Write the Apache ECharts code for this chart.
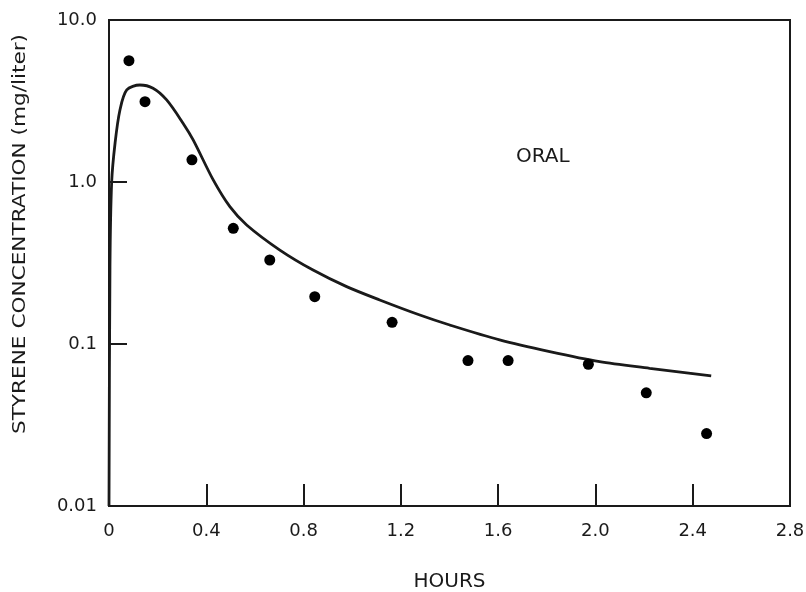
<!DOCTYPE html>
<html>
<head>
<meta charset="utf-8">
<script src="https://cdn.jsdelivr.net/npm/echarts@6/dist/echarts.min.js"></script>
<style>
  html, body { margin: 0; padding: 0; background: #fff; }
  #chart { width: 806px; height: 592px; }
</style>
</head>
<body>
<div id="chart"></div>
<script>
// observed concentrations (dots)
const obsHours = [0.082, 0.148, 0.341, 0.511, 0.661, 0.846, 1.164, 1.476, 1.641, 1.971, 2.209, 2.457]
const obsConc = [5.61, 3.13, 1.37, 0.518, 0.33, 0.196, 0.136, 0.079, 0.079, 0.075, 0.05, 0.028]

// model curve
const fitHours = [0, 0.004, 0.011, 0.025, 0.045, 0.073, 0.127, 0.181, 0.237, 0.305, 0.346, 0.4285,
  0.497, 0.566, 0.7025, 0.839, 0.977, 1.113, 1.278, 1.401, 1.606, 1.812, 2.017, 2.223, 2.476]
const fitConc = [0.01, 0.3, 1.0, 1.74, 2.78, 3.7, 3.97, 3.79, 3.21, 2.3, 1.82, 1.03,
  0.704, 0.543, 0.38, 0.286, 0.226, 0.187, 0.151, 0.131, 0.106, 0.0897, 0.0778, 0.0708, 0.0635]

const yTickLabels = ["0.01", "0.1", "1.0", "10.0"]
const xTickLabels = ["0", "0.4", "0.8", "1.2", "1.6", "2.0", "2.4", "2.8"]

const ink = "#1a1a1a"
const font = "DejaVu Sans"

const chart = echarts.init(document.getElementById("chart"), null, { renderer: "canvas" })

const option = {
  animation: false,
  backgroundColor: "#fff",
  grid: {
    left: 109,
    right: 16,
    top: 20,
    bottom: 86,
    outerBoundsMode: "none",
    containLabel: false,
    show: true,
    borderColor: ink,
    borderWidth: 2,
  },
  xAxis: {
    type: "value",
    min: 0,
    max: 2.8,
    interval: 0.4,
    name: "HOURS",
    nameLocation: "middle",
    nameGap: 66,
    nameTextStyle: { color: ink, fontFamily: font, fontSize: 20 },
    axisLine: { show: true, lineStyle: { color: ink, width: 2 } },
    axisTick: { show: true, inside: true, length: 22, lineStyle: { color: ink, width: 2 } },
    axisLabel: {
      color: ink,
      fontFamily: font,
      fontSize: 18,
      margin: 16,
      formatter: (v) => xTickLabels[Math.round(v / 0.4)],
    },
    splitLine: { show: false },
  },
  yAxis: {
    type: "log",
    logBase: 10,
    min: 0.01,
    max: 10,
    axisLine: { show: true, lineStyle: { color: ink, width: 2 } },
    axisTick: { show: true, inside: true, length: 18, lineStyle: { color: ink, width: 2 } },
    axisLabel: {
      color: ink,
      fontFamily: font,
      fontSize: 18,
      margin: 12,
      formatter: (v) => yTickLabels[Math.round(Math.log10(v)) + 2],
    },
    splitLine: { show: false },
    minorTick: { show: false },
  },
  graphic: [
    {
      type: "text",
      x: 20,
      y: 234,
      rotation: Math.PI / 2,
      scaleX: 1.2,
      style: {
        text: "STYRENE CONCENTRATION (mg/liter)",
        fill: ink,
        font: "18px " + font,
        align: "center",
        verticalAlign: "middle",
      },
    },
    {
      type: "text",
      x: 516,
      y: 157,
      style: {
        text: "ORAL",
        fill: ink,
        font: "20px " + font,
        align: "left",
        verticalAlign: "middle",
      },
    },
  ],
  series: [
    {
      name: "model",
      type: "line",
      data: fitHours.map((h, i) => [h, fitConc[i]]),
      showSymbol: false,
      smooth: 0.3,
      lineStyle: { color: ink, width: 2.8 },
      z: 3,
    },
    {
      name: "observed",
      type: "scatter",
      data: obsHours.map((h, i) => [h, obsConc[i]]),
      symbol: "circle",
      symbolSize: 11,
      itemStyle: { color: "#000", opacity: 1 },
      z: 4,
    },
  ],
}

chart.setOption(option)
</script>
</body>
</html>
